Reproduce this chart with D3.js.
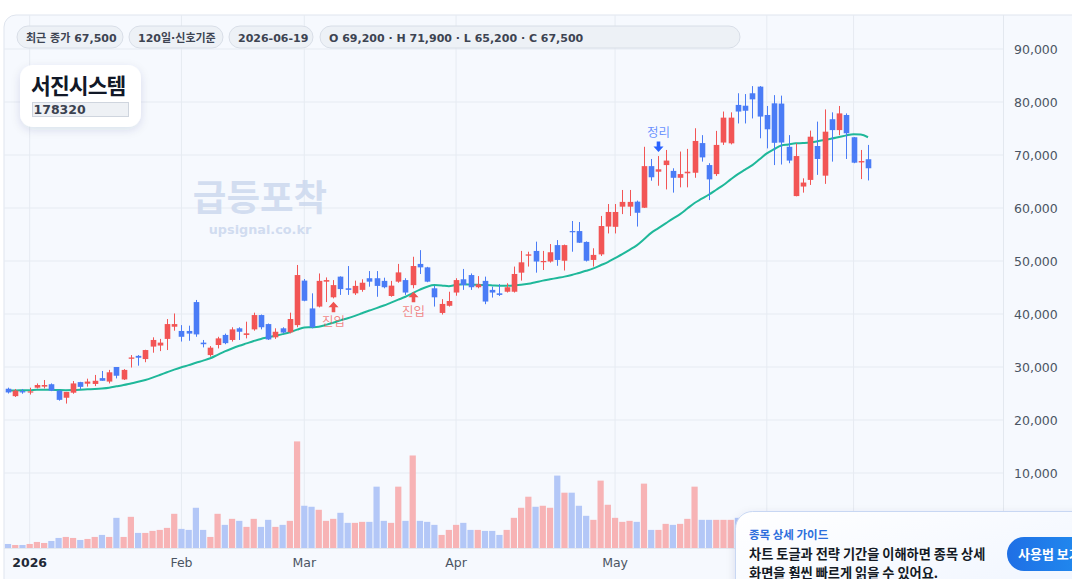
<!DOCTYPE html>
<html><head><meta charset="utf-8">
<script src="https://cdn.jsdelivr.net/npm/d3@7"></script>
<style>
html,body{margin:0;padding:0;background:#ffffff;overflow:hidden;}
svg{display:block;font-family:"DejaVu Sans","Noto Sans CJK KR",sans-serif;}
</style></head><body>
<svg id="c" width="1072" height="579"></svg>
<script>
const dates = [
"2025-12-26","2025-12-29","2025-12-30",
"2026-01-02","2026-01-05","2026-01-06","2026-01-07","2026-01-08","2026-01-09","2026-01-12","2026-01-13","2026-01-14","2026-01-15","2026-01-16","2026-01-19","2026-01-20","2026-01-21","2026-01-22","2026-01-23","2026-01-26","2026-01-27","2026-01-28","2026-01-29","2026-01-30",
"2026-02-02","2026-02-03","2026-02-04","2026-02-05","2026-02-06","2026-02-09","2026-02-10","2026-02-11","2026-02-12","2026-02-13","2026-02-19","2026-02-20","2026-02-23","2026-02-24","2026-02-25","2026-02-26","2026-02-27",
"2026-03-03","2026-03-04","2026-03-05","2026-03-06","2026-03-09","2026-03-10","2026-03-11","2026-03-12","2026-03-13","2026-03-16","2026-03-17","2026-03-18","2026-03-19","2026-03-20","2026-03-23","2026-03-24","2026-03-25","2026-03-26","2026-03-27","2026-03-30","2026-03-31",
"2026-04-01","2026-04-02","2026-04-03","2026-04-06","2026-04-07","2026-04-08","2026-04-09","2026-04-10","2026-04-13","2026-04-14","2026-04-15","2026-04-16","2026-04-17","2026-04-20","2026-04-21","2026-04-22","2026-04-23","2026-04-24","2026-04-27","2026-04-28","2026-04-29","2026-04-30",
"2026-05-01","2026-05-04","2026-05-05","2026-05-06","2026-05-07","2026-05-08","2026-05-11","2026-05-12","2026-05-13","2026-05-14","2026-05-15","2026-05-18","2026-05-19","2026-05-20","2026-05-21","2026-05-22","2026-05-25","2026-05-26","2026-05-27","2026-05-28","2026-05-29",
"2026-06-01","2026-06-02","2026-06-03","2026-06-04","2026-06-05","2026-06-08","2026-06-09","2026-06-10","2026-06-11","2026-06-12","2026-06-15","2026-06-16","2026-06-17","2026-06-18","2026-06-19"];

const opens = [25900,24500,25450,25300,26100,26300,26750,25550,24200,25150,27150,26850,26800,27900,27250,30000,27650,31550,32100,31500,33850,34050,35300,37600,36800,36800,42250,34600,32250,34150,
36050,35100,37300,36050,37100,39800,38100,35600,37300,36550,37900,46300,41050,41400,46100,43150,47050,44850,43900,44550,46750,46750,46250,43400,46100,46400,45450,49450,48800,44850,
40200,41550,44050,46550,47350,45050,46250,44550,43900,44200,44200,47800,51000,51900,49900,49900,53000,50050,55650,55650,53600,50200,51250,56500,56450,60250,60250,61200,60050,67900,
66850,68100,67000,65700,66550,66650,72250,68100,66400,72350,72200,79450,79300,81650,82900,77550,79750,79700,71550,62250,64050,65300,71700,66100,76750,74700,77550,73350,68600,69200];
const highs = [26100,25850,25850,26100,26900,27550,26900,25600,25300,27350,27200,27800,28500,29250,29450,30000,29600,32250,32250,33250,35600,35300,39050,40100,37900,37800,42650,35100,33950,35700,
36300,37500,37500,38550,40250,39900,38200,37300,37500,40250,49250,46600,43900,47650,46900,46400,47100,49050,46300,46550,48100,48100,46850,46250,49450,46750,50800,52050,48900,45300,
42800,44200,46750,48500,47650,47150,47050,45150,45650,45800,48950,51900,51750,53650,51900,53200,53950,53100,57550,57350,53700,52400,58500,60750,60750,63400,63400,61400,71550,69250,
69800,70950,67500,70650,71150,75050,73750,68450,74550,78200,78050,81650,81500,83000,83000,79250,81300,81200,73750,72200,65600,74600,76300,78600,78050,79250,77850,73400,70950,71900];
const lows = [25000,24350,24950,24800,25950,25950,25450,23650,23100,24950,25800,26300,26400,27400,26900,27850,27550,29900,30250,30900,32700,33000,33200,36850,34800,34950,35700,33700,31950,33500,
34300,34800,35100,35400,36850,37100,35100,35300,36350,36350,37500,42400,37300,41250,42250,42950,43600,43600,43600,44200,45150,43250,44850,43250,45900,43600,44850,47550,46000,41400,
39900,41400,43450,44550,44550,44850,41850,43100,43400,44050,44050,46300,48950,47800,48300,49700,49100,48200,51750,53400,49900,48950,50950,55200,55200,58850,58500,56500,60000,65150,
64200,63500,62900,63900,63900,65700,68750,61500,66050,71900,72000,75950,75950,76900,73150,71250,68100,68200,68450,62200,62900,64350,66250,64550,68750,73750,69250,68450,65450,65200];
const closes = [25200,25550,25200,25400,26600,26600,25550,23800,25300,26900,26250,27250,27400,27400,29000,28350,29450,31800,31750,33200,35100,34600,38100,38100,35700,36300,36150,34300,33650,35400,
34500,37100,36650,36350,39800,37500,35200,36650,36500,39050,47350,42500,37500,46250,46400,45450,44700,44550,45300,45900,46100,45300,45050,45350,47850,44050,49050,48800,46100,43150,
41900,42450,46400,45450,45050,45600,42350,44050,43600,45050,47550,49750,51250,49900,50000,51650,50200,53000,55550,53450,50050,51150,56600,59250,59250,61150,61150,59100,67900,65800,
67300,68950,65700,66400,66850,72650,69550,65400,71900,77050,77050,78200,78350,80500,77250,74850,72300,72350,68950,69800,64800,73450,69250,74400,74700,77850,74100,68550,68850,67500];
const volumes = [80000,60000,60000,80000,120000,100000,140000,200000,220000,200000,160000,180000,220000,260000,220000,600000,220000,620000,300000,300000,340000,360000,400000,680000,380000,360000,800000,360000,220000,680000,
460000,580000,540000,420000,580000,420000,560000,420000,460000,540000,2120000,840000,820000,760000,540000,580000,700000,500000,500000,520000,520000,1220000,540000,500000,1220000,540000,1840000,540000,520000,460000,
260000,360000,460000,500000,360000,360000,340000,340000,260000,360000,600000,800000,1020000,820000,840000,800000,1440000,1100000,1100000,840000,640000,560000,1340000,860000,600000,520000,540000,520000,1280000,360000,
360000,480000,460000,480000,580000,1220000,560000,560000,560000,560000,560000,600000,560000,720000,680000,600000,640000,600000,520000,600000,440000,600000,520000,640000,520000,480000,480000,520000,360000,400000];
const ma20 = [25550,25580,25600,25620,25700,25720,25700,25650,25620,25640,25700,25780,25850,25950,26100,26350,26600,26900,27200,27550,28000,28500,29000,29500,29950,30350,30800,31200,31650,32300,
32950,33500,34000,34450,34900,35300,35600,35900,36200,36550,37050,37450,37500,37600,37950,38350,38800,39200,39650,40150,40650,41100,41600,42150,42700,43250,43950,44600,45150,45450,
45400,45250,45500,45600,45550,45500,45450,45400,45350,45350,45400,45500,45700,46000,46300,46550,46800,47050,47350,47750,48150,48600,49200,49800,50550,51300,52100,52950,54100,55300,
56200,57100,58000,58850,59900,60950,61750,62550,63450,64350,65400,66400,67250,68100,69200,70300,71100,71800,72000,72200,72250,72350,72600,72850,73100,73400,73700,73900,73850,73350];

const priceTicks = [10000,20000,30000,40000,50000,60000,70000,80000,90000];
// [date, label, bold, label visible (the last two sit under the guide popup)]
const timeTicks = [["2026-01-02","2026",true,true],["2026-02-02","Feb",false,true],["2026-03-03","Mar",false,true],["2026-04-01","Apr",false,true],["2026-05-01","May",false,true],["2026-06-01","Jun",false,false],["2026-06-17","17",false,false]];
const markers = [{date:"2026-03-09",pos:"below",text:"진입",color:"#ef5350"},{date:"2026-03-24",pos:"below",text:"진입",color:"#ef5350"},{date:"2026-05-11",pos:"above",text:"정리",color:"#2962ff"}];
const badges = ["최근 종가 67,500","120일·신호기준","2026-06-19","O 69,200 · H 71,900 · L 65,200 · C 67,500"];
const stockName = "서진시스템", stockCode = "178320";

const svg = d3.select("#c");
const W = 1072, H = 579;
const plotL = 4, plotR = 1003, plotT = 15, plotB = 548;
const UP = "#f25555", DOWN = "#4a7cf6";

const defs = svg.append("defs");
defs.append("clipPath").attr("id","cardclip").append("rect").attr("x",4).attr("y",15).attr("width",1100).attr("height",600).attr("rx",12);
const sh = defs.append("filter").attr("id","shadow").attr("x","-30%").attr("y","-30%").attr("width","160%").attr("height","170%");
sh.append("feDropShadow").attr("dx",0).attr("dy",3).attr("stdDeviation",5).attr("flood-color","#1e3a6a").attr("flood-opacity",0.12);
const pg = defs.append("linearGradient").attr("id","popg").attr("x1",0).attr("y1",0).attr("x2",1).attr("y2",1);
pg.append("stop").attr("offset","0%").attr("stop-color","#ffffff");
pg.append("stop").attr("offset","100%").attr("stop-color","#eef4ff");
const bg = defs.append("linearGradient").attr("id","btng").attr("x1",0).attr("y1",0).attr("x2",1).attr("y2",0);
bg.append("stop").attr("offset","0%").attr("stop-color","#1f6fe5");
bg.append("stop").attr("offset","100%").attr("stop-color","#2196f3");

svg.append("rect").attr("x",4).attr("y",15).attr("width",1100).attr("height",600).attr("rx",12)
  .attr("fill","#f6f9fe").attr("stroke","#dfe5ee");
const card = svg.append("g").attr("clip-path","url(#cardclip)");

const x = d3.scaleBand().domain(dates).range([8 - 7.227/2, 8 - 7.227/2 + 7.227*dates.length]).padding(0);
const cx = d => x(d) + x.bandwidth()/2;
const y = d3.scaleLinear().domain([0, 90000]).range([526, 49]);
const yv = d3.scaleLinear().domain([0, d3.max(volumes)]).range([plotB, plotB - 106.6]);

const grid = card.append("g");
grid.selectAll("line.h").data(priceTicks).join("line")
  .attr("x1",plotL).attr("x2",plotR).attr("y1",d=>y(d)).attr("y2",d=>y(d))
  .attr("stroke","#e6ebf2").attr("stroke-width",1);
grid.selectAll("line.v").data(timeTicks).join("line")
  .attr("x1",d=>cx(d[0])).attr("x2",d=>cx(d[0])).attr("y1",plotT).attr("y2",plotB)
  .attr("stroke","#e6ebf2").attr("stroke-width",1);
card.append("line").attr("x1",plotR+0.5).attr("x2",plotR+0.5).attr("y1",plotT).attr("y2",H).attr("stroke","#e3e8ef");
card.append("line").attr("x1",plotL).attr("x2",plotR).attr("y1",plotB+0.5).attr("y2",plotB+0.5).attr("stroke","#e3e8ef");

card.append("text").attr("x",260).attr("y",211).attr("text-anchor","middle")
  .attr("font-family","Noto Sans CJK KR").attr("font-weight",700).attr("font-size",36.5)
  .attr("fill","#ccd8ee").attr("fill-opacity",0.85).text("급등포착");
card.append("text").attr("x",260).attr("y",234).attr("text-anchor","middle")
  .attr("font-weight",700).attr("font-size",12.8).attr("fill","#ccd8ee").attr("fill-opacity",0.9).text("upsignal.co.kr");

const idx = d3.range(dates.length);
card.append("g").selectAll("rect").data(idx).join("rect")
  .attr("x",i=>x(dates[i])+0.5).attr("width",x.bandwidth()-1)
  .attr("y",i=>yv(volumes[i])).attr("height",i=>plotB - yv(volumes[i]))
  .attr("fill",i=>closes[i]>=opens[i]?"#f7b3b5":"#b3c7f7");

card.append("path").datum(idx)
  .attr("d",d3.line().x(i=>cx(dates[i])).y(i=>y(ma20[i])).curve(d3.curveMonotoneX))
  .attr("fill","none").attr("stroke","#1fb89a").attr("stroke-width",2);

const cg = card.append("g");
cg.selectAll("line").data(idx).join("line")
  .attr("x1",i=>Math.round(cx(dates[i]))+0.5).attr("x2",i=>Math.round(cx(dates[i]))+0.5)
  .attr("y1",i=>y(highs[i])).attr("y2",i=>y(lows[i]))
  .attr("stroke",i=>closes[i]>=opens[i]?UP:DOWN).attr("stroke-width",1);
const bw = 5.6;
cg.selectAll("rect").data(idx).join("rect")
  .attr("x",i=>Math.round(cx(dates[i]))+0.5-bw/2).attr("width",bw)
  .attr("y",i=>y(Math.max(opens[i],closes[i])))
  .attr("height",i=>Math.max(1.2, Math.abs(y(opens[i])-y(closes[i]))))
  .attr("fill",i=>closes[i]>=opens[i]?UP:DOWN);

const mg = card.append("g");
markers.forEach(m=>{
  const i = dates.indexOf(m.date);
  const mx = Math.round(cx(m.date))+0.5;
  if(m.pos==="below"){
    const t = y(lows[i]) + 3.5;
    mg.append("path").attr("d",`M${mx},${t} L${mx+5},${t+5.5} L${mx+1.8},${t+5.5} L${mx+1.8},${t+10.5} L${mx-1.8},${t+10.5} L${mx-1.8},${t+5.5} L${mx-5},${t+5.5} Z`).attr("fill",m.color);
    mg.append("text").attr("x",mx).attr("y",t+24).attr("text-anchor","middle").attr("font-size",12.5)
      .attr("font-family","Noto Sans CJK KR").attr("fill",m.color).attr("fill-opacity",0.7).text(m.text);
  } else {
    const b = y(highs[i]) - 4;
    mg.append("path").attr("d",`M${mx},${b} L${mx+5},${b-5.5} L${mx+1.8},${b-5.5} L${mx+1.8},${b-10.5} L${mx-1.8},${b-10.5} L${mx-1.8},${b-5.5} L${mx-5},${b-5.5} Z`).attr("fill",m.color);
    mg.append("text").attr("x",mx).attr("y",b-15).attr("text-anchor","middle").attr("font-size",12.5)
      .attr("font-family","Noto Sans CJK KR").attr("fill",m.color).attr("fill-opacity",0.7).text(m.text);
  }
});

card.append("g").selectAll("text").data(priceTicks).join("text")
  .attr("x",1014).attr("y",d=>y(d)+4.5).attr("font-size",12.5).attr("fill","#4b5563")
  .text(d=>d3.format(",")(d));
card.append("g").selectAll("text").data(timeTicks.filter(d=>d[3])).join("text")
  .attr("x",d=>cx(d[0])).attr("y",567).attr("text-anchor","middle").attr("font-size",12.5)
  .attr("font-weight",d=>d[2]?700:400).attr("fill",d=>d[2]?"#1f2937":"#4b5563")
  .text(d=>d[1]);

const bx = [17,129,229,320], bwid = [106,94,84,420];
badges.forEach((t,k)=>{
  card.append("rect").attr("x",bx[k]).attr("y",26).attr("width",bwid[k]).attr("height",22).attr("rx",11)
    .attr("fill","#edf1f6").attr("stroke","#d8dee7");
  card.append("text").attr("x",bx[k]+9).attr("y",41.5).attr("font-size",11).attr("font-weight",700)
    .attr("fill","#3d4452").text(t);
});

card.append("rect").attr("x",20).attr("y",65).attr("width",121).attr("height",62).attr("rx",13)
  .attr("fill","#ffffff").attr("filter","url(#shadow)");
card.append("text").attr("x",31).attr("y",94).attr("font-family","Noto Sans CJK KR").attr("font-weight",700)
  .attr("font-size",21.5).attr("letter-spacing",-0.9).attr("fill","#111827").text(stockName);
card.append("rect").attr("x",32.5).attr("y",102.5).attr("width",96).attr("height",14)
  .attr("fill","#eef1f5").attr("stroke","#cfd5de");
card.append("text").attr("x",33.5).attr("y",114).attr("font-size",12.5).attr("font-weight",700)
  .attr("fill","#3b4250").text(stockCode);

const pop = svg.append("g");
pop.append("rect").attr("x",735.5).attr("y",511.5).attr("width",360).attr("height",100).attr("rx",17)
  .attr("fill","url(#popg)").attr("stroke","#c8d7f3").attr("filter","url(#shadow)");
pop.append("text").attr("x",749).attr("y",539).attr("font-family","Noto Sans CJK KR").attr("font-weight",700)
  .attr("font-size",11.5).attr("fill","#2f6fdc").text("종목 상세 가이드");
pop.append("text").attr("x",749).attr("y",559).attr("font-family","Noto Sans CJK KR").attr("font-weight",700)
  .attr("font-size",13.2).attr("fill","#141a24").text("차트 토글과 전략 기간을 이해하면 종목 상세");
pop.append("text").attr("x",749).attr("y",578).attr("font-family","Noto Sans CJK KR").attr("font-weight",700)
  .attr("font-size",13.2).attr("fill","#141a24").text("화면을 훨씬 빠르게 읽을 수 있어요.");
pop.append("rect").attr("x",1007).attr("y",537).attr("width",110).attr("height",34).attr("rx",17).attr("fill","url(#btng)");
pop.append("text").attr("x",1018).attr("y",559).attr("font-family","Noto Sans CJK KR").attr("font-weight",700)
  .attr("font-size",13).attr("fill","#ffffff").text("사용법 보기");
</script>
</body></html>
